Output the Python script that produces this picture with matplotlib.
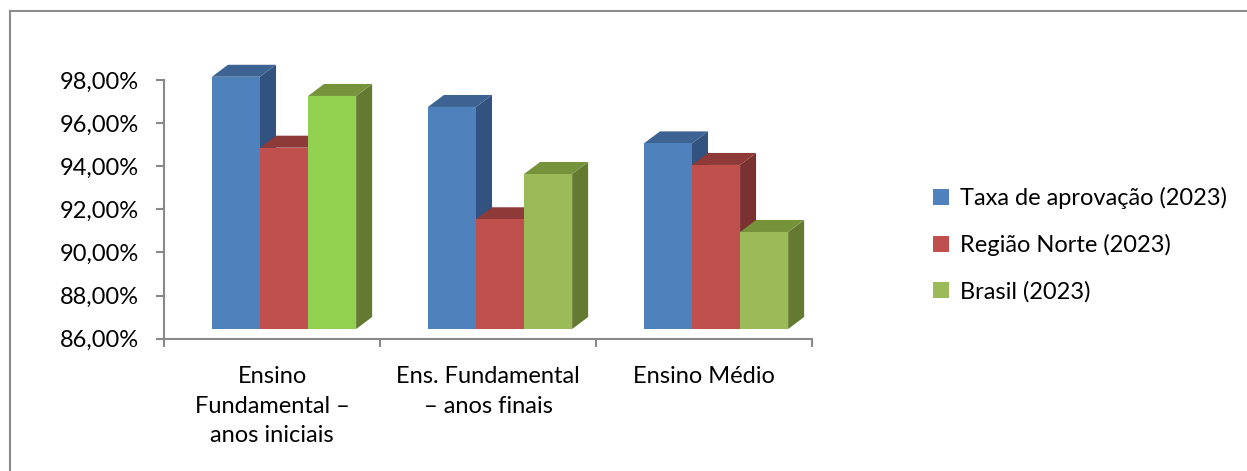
import matplotlib
matplotlib.use('Agg')
import matplotlib.pyplot as plt
from matplotlib.patches import Polygon, Patch
from matplotlib.lines import Line2D
from matplotlib.ticker import FuncFormatter

plt.rcParams['font.family'] = ['Lato', 'DejaVu Sans']

# ---------------------------------------------------------------------------
# data
categorias = ['Ensino\nFundamental –\nanos iniciais',
              'Ens. Fundamental\n– anos finais',
              'Ensino Médio']
series = ['Taxa de aprovação (2023)', 'Região Norte (2023)', 'Brasil (2023)']
taxa_aprovacao = [98.15, 96.75, 95.06]
regiao_norte = [94.86, 91.54, 94.06]
brasil = [97.26, 93.64, 90.95]
y_ticks = [86, 88, 90, 92, 94, 96, 98]

# ---------------------------------------------------------------------------
# style: front, top, side colours per series
cores = [
    (['#4F81BD'] * 3, '#3C6392', '#32537F'),
    (['#C0504D'] * 3, '#8E3A38', '#7A312F'),
    (['#92D050', '#9BBB59', '#9BBB59'], '#76933C', '#657A31'),
]
legend_cores = ['#4F81BD', '#C0504D', '#9BBB59']

W, H = 1247, 471
fig = plt.figure(figsize=(W / 100, H / 100), dpi=100)
ax = fig.add_axes([164 / W, (H - 338.7) / H, 648 / W, (338.7 - 80) / H])
ax.set_xlim(-0.5, 2.5)
ax.set_ylim(86, 98)

largura = 0.2225
inicio = -0.278
dx = 16 / 216.0            # depth offset (x, data units)
dy = 12 / 21.56            # depth offset (y, data units)
base = 86.45

valores = [taxa_aprovacao, regiao_norte, brasil]
for i in range(len(categorias)):
    for s, vals in enumerate(valores):
        x0 = i + inicio + s * largura
        x1 = x0 + largura
        v = vals[i]
        frente, topo, lado = cores[s][0][i], cores[s][1], cores[s][2]
        lado_poly = Polygon([(x1, base), (x1, v), (x1 + dx, v + dy), (x1 + dx, base + dy)],
                            closed=True, facecolor=lado, edgecolor='none', clip_on=False)
        topo_poly = Polygon([(x0, v), (x1, v), (x1 + dx, v + dy), (x0 + dx, v + dy)],
                            closed=True, facecolor=topo, edgecolor='none', clip_on=False)
        frente_poly = Polygon([(x0, base), (x1, base), (x1, v), (x0, v)],
                              closed=True, facecolor=frente, edgecolor='none', clip_on=False)
        for p in (lado_poly, topo_poly, frente_poly):
            ax.add_patch(p)

# axes look
for sp in ['top', 'right']:
    ax.spines[sp].set_visible(False)
for sp in ['left', 'bottom']:
    ax.spines[sp].set_color('#898989')
    ax.spines[sp].set_linewidth(1.5)

ax.set_yticks(y_ticks)
ax.yaxis.set_major_formatter(FuncFormatter(lambda v, p: f'{v:.2f}%'.replace('.', ',')))
ax.tick_params(axis='y', direction='out', length=6, width=1.5, color='#898989',
               labelsize=17, pad=12)

ax.set_xticks([-0.5, 0.5, 1.5, 2.5])
ax.set_xticklabels([])
ax.set_xticks([0, 1, 2], minor=True)
ax.set_xticklabels(categorias, minor=True, fontsize=17, linespacing=1.5, va='top')
ax.tick_params(axis='x', which='major', direction='out', length=6, width=1.5, color='#898989')
ax.tick_params(axis='x', which='minor', length=0, pad=20)

# legend
handles = [Patch(facecolor=c, edgecolor='none') for c in legend_cores]
fig.legend(handles, series, loc='center left', bbox_to_anchor=(912 / W, 1 - 245 / H),
           frameon=False, fontsize=17, handlelength=0.65, handleheight=0.65,
           handletextpad=0.5, labelspacing=1.05)

# chart border (left and top only visible)
fig.add_artist(Line2D([10 / W, 10 / W], [0, 1 - 11 / H], color='#8C8C8C', lw=1.5))
fig.add_artist(Line2D([10 / W, 1], [1 - 11 / H, 1 - 11 / H], color='#8C8C8C', lw=1.5))

fig.savefig('out.png', dpi=100)
